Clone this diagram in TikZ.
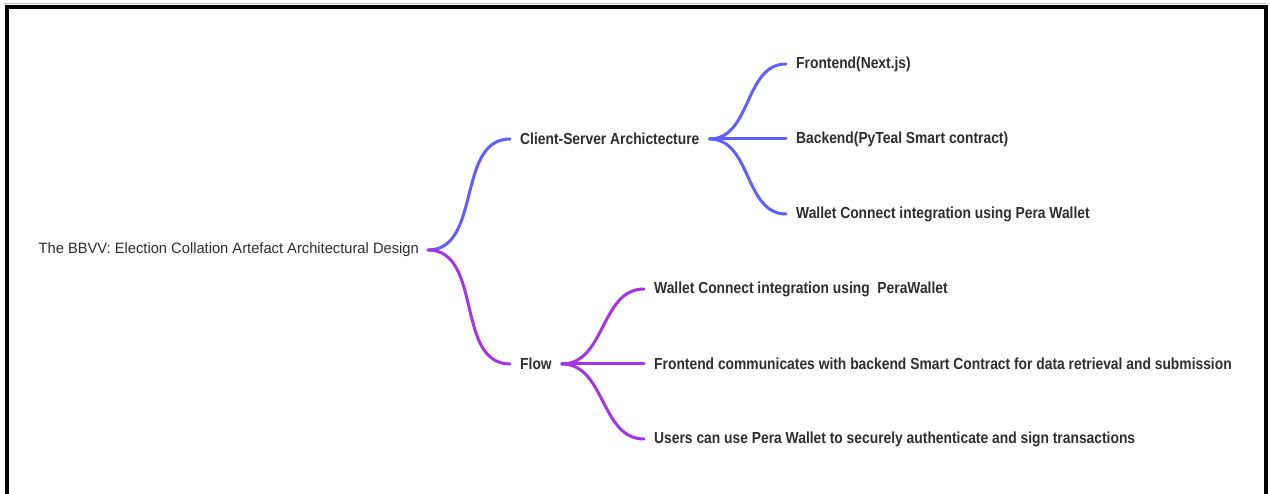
\documentclass[tikz,border=0pt]{standalone}
\usepackage{fontspec}
\setmainfont{Liberation Sans}[FakeStretch=0.865]
\newfontfamily\rootfont{Liberation Sans}[FakeStretch=0.98]
\definecolor{blueline}{HTML}{5F5FFF}
\definecolor{purpleline}{HTML}{A633E8}
\definecolor{txt}{HTML}{2E2E2E}
\tikzset{
  lbl/.style={inner xsep=10pt, inner ysep=2pt, text=txt, font=\fontsize{16}{18}\selectfont\bfseries},
  rootlbl/.style={inner xsep=9pt, inner ysep=2pt, text=txt, font=\rootfont\fontsize{15}{17}\selectfont},
  conn/.style={line width=3pt, line cap=round, out=0, in=180},
  bconn/.style={conn, draw=blueline},
  pconn/.style={conn, draw=purpleline},
  frame/.style={line width=4pt, black}
}
\begin{document}
\begin{tikzpicture}[x=1pt,y=-1pt]
\useasboundingbox (0,0) rectangle (1270,494);
\fill[white] (0,0) rectangle (1270,494);
% frame (three sides)
\draw[gray!60, line width=1pt] (5,3.5) -- (1266,3.5);
\draw[frame] (7,494) -- (7,7) -- (1265.5,7) -- (1265.5,494);
% nodes
\node[rootlbl, anchor=east] (root) at (428,250) {The BBVV: Election Collation Artefact Architectural Design};
\node[lbl, anchor=west] (cs) at (510,139) {Client-Server Archictecture};
\node[lbl, anchor=west] (flow) at (510,364) {Flow};
\node[lbl, anchor=west] (fe) at (786,64) {Frontend(Next.js)};
\node[lbl, anchor=west] (be) at (786,139) {Backend(PyTeal Smart contract)};
\node[lbl, anchor=west] (wc) at (786,214) {Wallet Connect integration using Pera Wallet};
\node[lbl, anchor=west] (f1) at (644,289) {Wallet Connect integration using\ \ PeraWallet};
\node[lbl, anchor=west] (f2) at (644,364) {Frontend communicates with backend Smart Contract for data retrieval and submission};
\node[lbl, anchor=west] (f3) at (644,439) {Users can use Pera Wallet to securely authenticate and sign transactions};
% connectors
\draw[bconn] (root.east) to (cs.west);
\draw[pconn] (root.east) to (flow.west);
\draw[bconn] (cs.east) to (fe.west);
\draw[bconn] (cs.east) to (be.west);
\draw[bconn] (cs.east) to (wc.west);
\draw[pconn] (flow.east) to (f1.west);
\draw[pconn] (flow.east) to (f2.west);
\draw[pconn] (flow.east) to (f3.west);
\end{tikzpicture}
\end{document}
